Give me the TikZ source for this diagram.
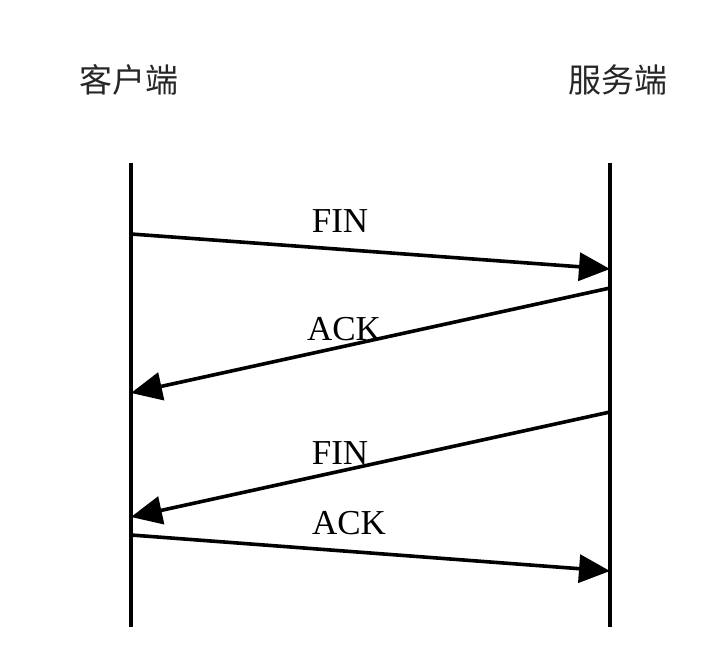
\documentclass[tikz,border=0pt]{standalone}
\usepackage{fontspec}
\setmainfont{Liberation Serif}
\newfontfamily\cjk{Noto Sans CJK SC}
\usetikzlibrary{arrows.meta}
\begin{document}
\begin{tikzpicture}[x=1pt,y=-1pt,
  lifeline/.style={line width=3.6pt},
  msg/.style={line width=3.6pt,-{Triangle[length=31pt,width=28pt]}},
  msglabel/.style={font=\fontsize{35}{40}\selectfont,inner sep=0pt},
  party/.style={font=\cjk\fontsize{33}{38}\selectfont,inner sep=0pt,text=black!85}]
\useasboundingbox (0,0) rectangle (708,671);
\node[party] (client) at (129,80) {客户端};
\node[party] (server) at (618,80) {服务端};
\coordinate (lt) at (131,163);
\coordinate (lb) at (131,627);
\coordinate (rt) at (610,163);
\coordinate (rb) at (610,627);
\draw[lifeline] (lt) -- (lb);
\draw[lifeline] (rt) -- (rb);
\coordinate (a1) at (131,234);
\coordinate (b1) at (610,269);
\coordinate (b2) at (610,288);
\coordinate (a2) at (131,393);
\coordinate (b3) at (610,412);
\coordinate (a3) at (131,517);
\coordinate (a4) at (131,535);
\coordinate (b4) at (610,571);
\draw[msg] (a1) -- (b1);
\draw[msg] (b2) -- (a2);
\draw[msg] (b3) -- (a3);
\draw[msg] (a4) -- (b4);
\node[msglabel] (fin1) at (340,221) {FIN};
\node[msglabel] (ack1) at (344,329) {ACK};
\node[msglabel] (fin2) at (340,453) {FIN};
\node[msglabel] (ack2) at (349,523) {ACK};
\end{tikzpicture}
\end{document}
